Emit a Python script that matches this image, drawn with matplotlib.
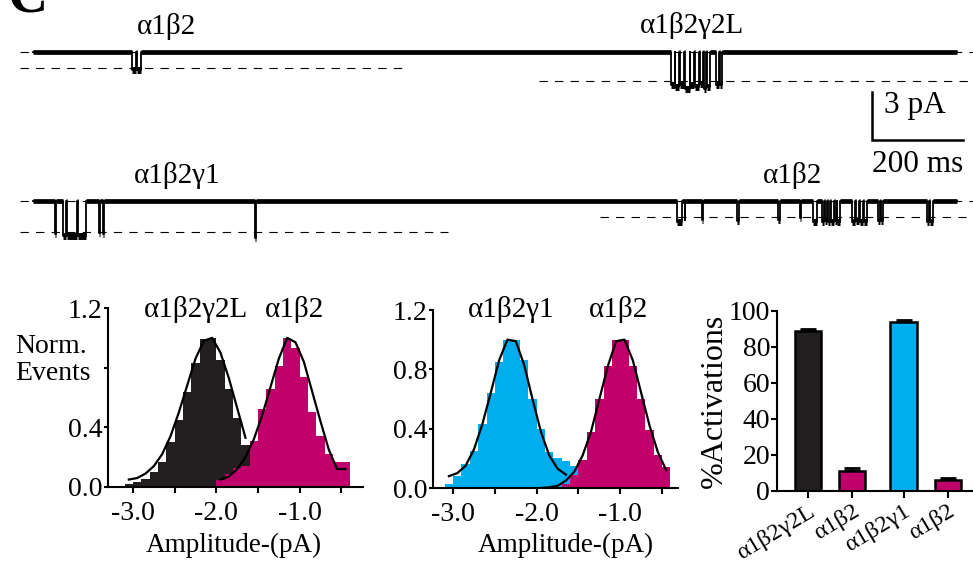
import numpy as np
import matplotlib
matplotlib.use("Agg")
import matplotlib.pyplot as plt

plt.rcParams['font.family'] = ['Liberation Serif', 'DejaVu Serif']
plt.rcParams['axes.linewidth'] = 1.5

BLACK = '#231f20'
MAGENTA = '#c0006b'
CYAN = '#00aeef'

W, H = 973, 564

# ---- single channel records: (open start ms, open end ms, level pA) ----
trace_end = 2030
top_events = [
    (218, 226, -1.15), (229, 238, -1.15),
    (1403, 1410, -2.1), (1412, 1420, -2.2), (1422, 1431, -2.1), (1433, 1443, -2.3),
    (1445, 1453, -2.1), (1455, 1464, -2.2), (1466, 1472, -2.0), (1474, 1479, -2.3),
    (1481, 1489, -2.2), (1502, 1507, -2.1), (1510, 1515, -2.1),
]
bottom_events = [
    (48, 51, -2.1), (66, 72, -2.2), (74, 96, -2.2), (98, 117, -2.2),
    (146, 148, -2.0), (154, 156, -2.1), (489, 491, -2.3),
    (1415, 1426, -1.3), (1432, 1434, -1.2), (1470, 1473, -1.2), (1547, 1552, -1.25),
    (1638, 1641, -1.2), (1686, 1689, -1.1), (1714, 1722, -1.3),
    (1733, 1738, -1.3), (1740, 1746, -1.25), (1748, 1751, -1.3), (1753, 1760, -1.3),
    (1762, 1766, -1.25), (1768, 1774, -1.3),
    (1799, 1806, -1.3), (1808, 1815, -1.25), (1817, 1824, -1.3), (1826, 1833, -1.3),
    (1857, 1861, -1.25), (1864, 1869, -1.25), (1964, 1970, -1.3), (1972, 1979, -1.3),
]
# dashed reference levels (pA): closed, open levels
top_levels = [0.0, -1.04, -1.83]
bottom_levels = [0.0, -1.94, -1.0]
trace_labels_top = ['α1β2', 'α1β2γ2L']
trace_labels_bottom = ['α1β2γ1', 'α1β2']

# ---- amplitude histograms (normalised events, 0.1 pA bins) ----
h1_black_edges = np.linspace(-3.1, -1.5, 17)
h1_black = [0.02, 0.035, 0.055, 0.1, 0.17, 0.3, 0.45, 0.64, 0.83, 0.99, 1.0,
            0.85, 0.66, 0.46, 0.28, 0.15]
h1_mag_edges = np.linspace(-2.0, -0.4, 17)
h1_mag = [0.05, 0.09, 0.13, 0.14, 0.31, 0.52, 0.66, 0.81, 1.0, 0.93, 0.74,
          0.5, 0.34, 0.22, 0.17, 0.17]
h1_fit_black_x = [-3.05, -2.95, -2.85, -2.75, -2.65, -2.55, -2.45, -2.35,
                  -2.25, -2.15, -2.05, -1.95, -1.85, -1.75, -1.65]
h1_fit_black_y = [0.05, 0.06, 0.09, 0.14, 0.22, 0.34, 0.5, 0.68, 0.86, 0.98,
                  1.0, 0.9, 0.73, 0.53, 0.33]
h1_fit_mag_x = [-1.95, -1.85, -1.75, -1.65, -1.55, -1.45, -1.35, -1.25,
                -1.15, -1.05, -0.95, -0.85, -0.75, -0.65, -0.55, -0.45]
h1_fit_mag_y = [0.05, 0.07, 0.12, 0.2, 0.32, 0.48, 0.67, 0.86, 1.0, 0.97,
                0.84, 0.64, 0.44, 0.25, 0.12, 0.12]

h2_cyan_edges = np.linspace(-3.1, -1.5, 17)
h2_cyan = [0.03, 0.08, 0.16, 0.25, 0.43, 0.64, 0.85, 1.0, 1.0, 0.86, 0.6,
           0.4, 0.24, 0.2, 0.18, 0.15]
h2_mag_edges = np.linspace(-1.8, -0.4, 15)
h2_mag = [0.01, 0.03, 0.09, 0.19, 0.38, 0.6, 0.82, 1.0, 1.0, 0.82, 0.6,
          0.39, 0.22, 0.14]
h2_fit_cyan_x = [-3.05, -2.95, -2.85, -2.75, -2.65, -2.55, -2.45, -2.35,
                 -2.25, -2.15, -2.05, -1.95, -1.85, -1.75, -1.65]
h2_fit_cyan_y = [0.08, 0.1, 0.15, 0.26, 0.43, 0.64, 0.86, 1.0, 0.99, 0.83,
                 0.6, 0.38, 0.22, 0.13, 0.09]
h2_fit_mag_x = [-1.95, -1.85, -1.75, -1.65, -1.55, -1.45, -1.35, -1.25,
                -1.15, -1.05, -0.95, -0.85, -0.75, -0.65, -0.55, -0.45]
h2_fit_mag_y = [0.0, 0.005, 0.015, 0.05, 0.11, 0.22, 0.38, 0.6, 0.82, 0.99,
                1.0, 0.86, 0.64, 0.42, 0.24, 0.12]

# ---- % activations ----
bar_labels = ['α1β2γ2L', 'α1β2', 'α1β2γ1', 'α1β2']
bar_values = [89, 11, 94, 6]
bar_errors = [1, 2, 1, 1.2]
bar_colors = [BLACK, MAGENTA, CYAN, MAGENTA]

FS = 20

fig = plt.figure(figsize=(W / 100, H / 100), dpi=100)


def ftext(xpx, ypx, s, **kw):
    kw.setdefault('fontsize', FS)
    fig.text(xpx / W, 1 - ypx / H, s, **kw)


# pixel <-> data for trace panel
T0_PX, MS_PX = 33.0, 91.0 / 200.0
BASE_PX, PA_PX = 51.7, 16.0
ROW2 = (BASE_PX - 200.7) / PA_PX


def px2ms(p):
    return (p - T0_PX) / MS_PX


def px2pa(p):
    return (BASE_PX - p) / PA_PX


ax_tr = fig.add_axes([0, 0, 1, 1])
ax_tr.set_xlim(px2ms(0), px2ms(W))
ax_tr.set_ylim(px2pa(H), px2pa(0))
ax_tr.axis('off')


def draw_trace(ax, events, off):
    t, y = [0], [0]
    for s, e, lv in events:
        t += [s, s, e, e]
        y += [0, lv, lv, 0]
    t.append(trace_end)
    y.append(0)
    ax.plot(t, np.array(y) + off, color='k', lw=1.3, zorder=3)
    # noisy band look: thick dwell segments
    starts = [0] + [e for s, e, lv in events]
    ends = [s for s, e, lv in events] + [trace_end]
    ax.hlines([off] * len(starts), starts, ends, color='k', lw=3.4, zorder=3)
    ax.hlines([lv + off for s, e, lv in events], [s for s, e, lv in events],
              [e for s, e, lv in events], color='k', lw=5.0, zorder=3)


draw_trace(ax_tr, top_events, 0)
draw_trace(ax_tr, bottom_events, ROW2)

dash = (0, (7.5, 6.5))
# top row dashed levels
ax_tr.hlines(top_levels[0], px2ms(20), px2ms(973), color='k', lw=0.8, ls=dash, zorder=2)
ax_tr.hlines(top_levels[1], px2ms(20), px2ms(405), color='k', lw=0.8, ls=dash, zorder=2)
ax_tr.hlines(top_levels[2], px2ms(539), px2ms(973), color='k', lw=0.8, ls=dash, zorder=2)
# bottom row dashed levels
ax_tr.hlines(bottom_levels[0] + ROW2, px2ms(20), px2ms(973), color='k', lw=0.8, ls=dash, zorder=2)
ax_tr.hlines(bottom_levels[1] + ROW2, px2ms(20), px2ms(448), color='k', lw=0.8, ls=dash, zorder=2)
ax_tr.hlines(bottom_levels[2] + ROW2, px2ms(600), px2ms(973), color='k', lw=0.8, ls=dash, zorder=2)

# scale bar 3 pA / 200 ms
sx, sy = px2ms(872), px2pa(140)
ax_tr.plot([sx, sx, sx + 200], [sy + 3, sy, sy], color='k', lw=1.8,
           solid_joinstyle='miter', zorder=3)
ftext(884, 113, '3 pA', fontsize=22.5, va='baseline')
ftext(918, 172, '200 ms', fontsize=22.5, ha='center', va='baseline')

ftext(166, 34, trace_labels_top[0], fontsize=21, ha='center', va='baseline')
ftext(692, 33, trace_labels_top[1], fontsize=21, ha='center', va='baseline')
ftext(177, 183, trace_labels_bottom[0], fontsize=21, ha='center', va='baseline')
ftext(793, 183, trace_labels_bottom[1], fontsize=21, ha='center', va='baseline')

ftext(7, 11, 'C', fontsize=40, fontweight='bold', va='baseline')


def hist_axes(left, right, top, bottom, xlim):
    ax = fig.add_axes([left / W, 1 - bottom / H, (right - left) / W, (bottom - top) / H])
    ax.set_xlim(*xlim)
    ax.set_ylim(0, 1.2)
    ax.spines[['top', 'right']].set_visible(False)
    ax.set_xticks([-3, -2, -1])
    ax.set_xticklabels(['-3.0', '-2.0', '-1.0'])
    ax.set_xticks([-2.5, -1.5, -0.5], minor=True)
    ax.set_yticks([0, 0.4, 0.8, 1.2])
    ax.tick_params(axis='x', which='both', direction='out', length=4, width=1.5,
                   labelsize=FS, pad=6)
    ax.tick_params(axis='y', direction='out', length=3, width=1.5, labelsize=FS, pad=1)
    ax.patch.set_alpha(0)
    return ax


# histogram 1
ax1 = hist_axes(108, 363, 308, 487, (-3.3, -0.24))
ax1.stairs(h1_black, h1_black_edges, fill=True, color=BLACK)
ax1.stairs(h1_mag, h1_mag_edges, fill=True, color=MAGENTA)
ax1.plot(h1_fit_black_x, h1_fit_black_y, color='k', lw=1.6)
ax1.plot(h1_fit_mag_x, h1_fit_mag_y, color='k', lw=1.6)
ax1.set_yticklabels(['0.0', '0.4', '', '1.2'])
ftext(15, 353, 'Norm.', va='baseline')
ftext(15, 380, 'Events', va='baseline')
ftext(196, 317, 'α1β2γ2L', fontsize=21, ha='center', va='baseline')
ftext(294, 317, 'α1β2', fontsize=21, ha='center', va='baseline')
ftext(234, 552, 'Amplitude-(pA)', fontsize=19.5, ha='center', va='baseline')

# histogram 2
ax2 = hist_axes(433, 678, 310, 488, (-3.24, -0.31))
ax2.stairs(h2_cyan, h2_cyan_edges, fill=True, color=CYAN)
ax2.stairs(h2_mag, h2_mag_edges, fill=True, color=MAGENTA)
ax2.plot(h2_fit_cyan_x, h2_fit_cyan_y, color='k', lw=1.6)
ax2.plot(h2_fit_mag_x, h2_fit_mag_y, color='k', lw=1.6)
ax2.set_yticklabels(['0.0', '0.4', '0.8', '1.2'])
ftext(511, 317, 'α1β2γ1', fontsize=21, ha='center', va='baseline')
ftext(619, 317, 'α1β2', fontsize=21, ha='center', va='baseline')
ftext(566, 552, 'Amplitude-(pA)', fontsize=19.5, ha='center', va='baseline')

# bar chart
ax3 = fig.add_axes([777 / W, 1 - 491 / H, (W - 777) / W, (491 - 311) / H])
pos = [0, 1, 2.16, 3.16]
ax3.bar(pos, bar_values, width=0.6, color=bar_colors, edgecolor='k', linewidth=1.8, zorder=2)
ax3.errorbar(pos, bar_values, yerr=[[0] * 4, bar_errors], fmt='none', ecolor='k',
             elinewidth=1.5, capsize=6, capthick=2, zorder=1)
ax3.set_xlim(-0.7, 3.73)
ax3.set_ylim(0, 100)
ax3.set_yticks(range(0, 101, 20))
ax3.spines[['top', 'right']].set_visible(False)
ax3.set_xticks(pos)
ax3.set_xticklabels(bar_labels, rotation=31, ha='right', va='top', rotation_mode='anchor')
ax3.tick_params(axis='x', direction='out', length=5, width=1.5, labelsize=17.5, pad=2)
ax3.tick_params(axis='y', direction='out', length=4, width=1.5, labelsize=FS, pad=1)
ax3.patch.set_alpha(0)
ftext(714, 401, '%Activations', fontsize=23, rotation=90, ha='center', va='center')

fig.savefig('out.png', dpi=100)
